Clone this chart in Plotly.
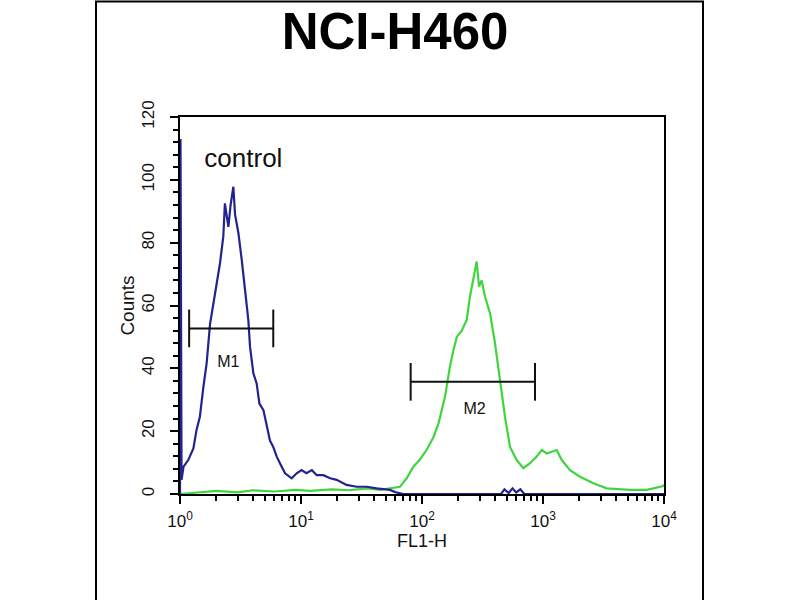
import plotly.graph_objects as go

# control histogram (blue), FL1-H vs counts
control_x = [1.0, 1.01, 1.03, 1.07, 1.17, 1.29, 1.37, 1.46, 1.56, 1.66, 1.77, 1.88,
             2.01, 2.14, 2.28, 2.35, 2.51, 2.62, 2.76, 2.85, 3.04, 3.24, 3.44, 3.67,
             3.79, 4.04, 4.30, 4.53, 4.89, 5.20, 5.54, 5.90, 6.30, 6.70, 7.38, 8.37,
             9.21, 10.1, 11.1, 12.3, 13.5, 15.3, 17.4, 19.7, 23.8, 28.8, 34.9, 42.2,
             54.4, 60, 70, 450, 480, 520, 560, 600, 650, 700, 10000]
control_y = [0, 113, 4.5, 8.7, 10.8, 14.5, 20.4, 24.6, 34, 41.6, 54, 60.7,
             67, 73.4, 82, 92.5, 85, 92, 97.8, 89, 83, 74.4, 66, 55.4,
             46.9, 38.4, 35.2, 28.8, 26.7, 21.4, 17, 15, 11.9, 9.8, 6.6, 5,
             6.6, 7.6, 6.6, 7.6, 6, 6, 5, 4.5, 2.9, 2.3, 2.3, 1.8,
             1.3, 0.6, 0, 0, 1.5, 0.3, 1.8, 0.5, 1.5, 0, 0]

# stained sample histogram (green)
sample_x = [1.0, 2.0, 3.0, 4.0, 6.0, 9.0, 12, 18, 25, 35, 45, 65.8, 74.7, 84.8,
            96.2, 109, 124, 137, 155, 170, 182, 194, 213, 234, 249, 266, 283,
            296, 311, 332, 365, 401, 441, 485, 534, 606, 688, 781, 887, 975,
            1073, 1180, 1298, 1429, 1672, 2023, 2608, 3360, 5237, 7194, 9860, 10000]
sample_y = [0, 1, 0.5, 1.2, 0.8, 1.3, 1, 1.5, 1.2, 1.8, 1.3, 2.3, 5, 8.7,
            11, 14, 18, 22.5, 31, 40.5, 45.8, 50, 52, 55.4, 62.8, 69, 74,
            66, 68, 62.8, 57.5, 48, 36, 24.6, 15, 10.8, 8.2, 9.8, 11.9, 14,
            12.9, 13.5, 14, 10.8, 7.6, 5.5, 3.4, 1.8, 1.3, 1.3, 2.5, 3]

# marker gates: name, start, end, level, label position
gate_names = ["M1", "M2"]
gate_start = [1.19, 80.6]
gate_end = [5.9, 859]
gate_level = [52.7, 35.7]
gate_label_x = [2.51, 272]
gate_label_y = [41.6, 26.7]

x_tickvals = [1, 10, 100, 1000, 10000]
x_ticktext = ["10<sup>0</sup>", "10<sup>1</sup>", "10<sup>2</sup>", "10<sup>3</sup>", "10<sup>4</sup>"]
x_minor = [m * 10 ** d for d in range(4) for m in range(2, 10)]

FONT = "Liberation Sans, Arial, sans-serif"

fig = go.Figure()

fig.add_trace(go.Scatter(x=sample_x, y=sample_y, mode="lines",
                         line=dict(color="#3fd53f", width=2.2), showlegend=False))
fig.add_trace(go.Scatter(x=control_x, y=control_y, mode="lines",
                         line=dict(color="#23238f", width=2.2), showlegend=False))

cap = 6
for name, x0, x1, lv, lx, ly in zip(gate_names, gate_start, gate_end, gate_level,
                                    gate_label_x, gate_label_y):
    fig.add_trace(go.Scatter(
        x=[x0, x0, None, x0, x1, None, x1, x1],
        y=[lv - cap, lv + cap, None, lv, lv, None, lv - cap, lv + cap],
        mode="lines", line=dict(color="#111", width=2), showlegend=False))
    fig.add_trace(go.Scatter(x=[lx], y=[ly], mode="text", text=[name],
                             textfont=dict(family=FONT, size=16, color="#111"),
                             showlegend=False))

fig.add_trace(go.Scatter(x=[3.34], y=[106], mode="text", text=["control"],
                         textfont=dict(family=FONT, size=26, color="#111"),
                         showlegend=False))

# plot area in pixels: x 180..664, y 117..494
L, R, T, B = 180, 136, 117, 106
pw, ph = 800 - L - R, 600 - T - B

fig.update_layout(
    width=800, height=600,
    margin=dict(l=L, r=R, t=T, b=B),
    paper_bgcolor="white", plot_bgcolor="white",
    title=dict(text="<b>NCI-H460</b>", x=(395 - L) / pw, xref="paper", xanchor="center",
               y=1 - 31 / 600, yanchor="middle",
               font=dict(family=FONT, size=51, color="black")),
    font=dict(family=FONT, color="#111"),
    shapes=[dict(type="rect", xref="paper", yref="paper",
                 x0=(96 - L) / pw, x1=(703 - L) / pw,
                 y0=(600 - B - 620) / ph, y1=(600 - B - 1.5) / ph,
                 line=dict(color="black", width=2))],
)

fig.update_xaxes(
    type="log", range=[0, 4],
    tickvals=x_tickvals, ticktext=x_ticktext,
    ticks="outside", ticklen=8, tickwidth=2, tickcolor="black",
    minor=dict(tickvals=x_minor, ticks="outside", ticklen=5, tickwidth=1.5, tickcolor="black"),
    tickfont=dict(size=17), ticklabelstandoff=3,
    showline=True, linecolor="black", linewidth=2, mirror=True,
    showgrid=False, zeroline=False,
    title=dict(text="FL1-H", font=dict(size=18), standoff=0),
)

fig.update_yaxes(
    range=[0, 120], dtick=20, tick0=0,
    ticks="outside", ticklen=8, tickwidth=2, tickcolor="black",
    minor=dict(dtick=4, ticks="outside", ticklen=5, tickwidth=1.5, tickcolor="black"),
    tickangle=-90, tickfont=dict(size=17), ticklabelstandoff=9,
    showline=True, linecolor="black", linewidth=2, mirror=True,
    showgrid=False, zeroline=False,
    title=dict(text="Counts", font=dict(size=19), standoff=0),
)

fig.write_html("out.html", config={"displayModeBar": False},
               post_script="document.body.style.margin = '0';")
